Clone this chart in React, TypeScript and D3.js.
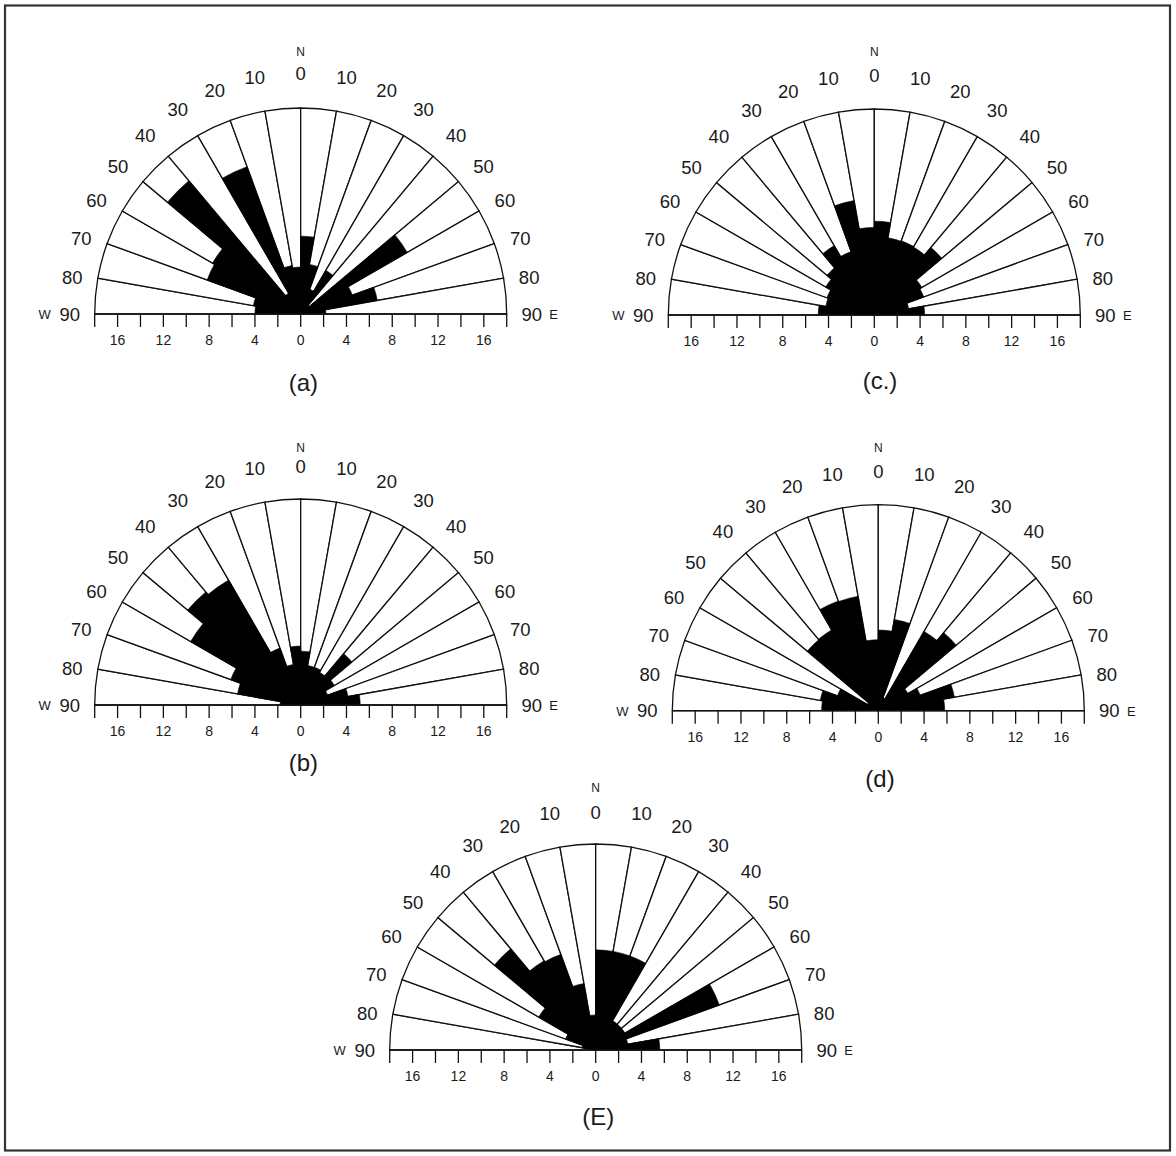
import React from 'react';
import * as d3 from 'd3';

// 10-degree bins from W (−90) to E (+90)
const binStarts = [-90, -80, -70, -60, -50, -40, -30, -20, -10, 0, 10, 20, 30, 40, 50, 60, 70, 80];
const angleTicks = [-90, -80, -70, -60, -50, -40, -30, -20, -10, 0, 10, 20, 30, 40, 50, 60, 70, 80, 90];
const lengthTicks = [-18, -16, -14, -12, -10, -8, -6, -4, -2, 0, 2, 4, 6, 8, 10, 12, 14, 16, 18];
const lengthTickLabels = [-16, -12, -8, -4, 0, 4, 8, 12, 16];
const maxValue = 18;

// values per bin, W -> E
const valuesA = [4.0, 4.2, 8.7, 8.9, 15.2, 2.1, 13.7, 4.3, 4.1, 6.8, 4.4, 2.3, 4.4, 1.0, 10.75, 4.8, 6.8, 2.2];
const valuesB = [1.8, 5.6, 6.5, 11.1, 12.9, 12.6, 5.3, 3.6, 5.15, 4.7, 3.5, 3.5, 3.3, 5.85, 3.4, 2.5, 4.2, 5.2];
const valuesC = [4.9, 4.3, 4.4, 4.9, 5.4, 7.0, 5.9, 10.15, 7.65, 8.2, 6.85, 6.9, 6.85, 7.7, 4.8, 4.6, 3.05, 4.4];
const valuesD = [4.95, 5.15, 3.8, 1.1, 8.1, 8.15, 10.2, 10.15, 6.2, 7.05, 8.1, 1.2, 8.0, 8.9, 3.0, 3.9, 6.75, 5.8];
const valuesE = [0.4, 1.2, 2.8, 5.75, 11.55, 9.0, 8.9, 5.9, 3.06, 8.75, 8.75, 8.75, 2.95, 2.95, 2.95, 11.5, 2.85, 5.6];

const panelLabels = ['(a)', '(c.)', '(b)', '(d)', '(E)'];

const FONT = "'Liberation Sans', Arial, Helvetica, sans-serif";
const R = 206;

const rScale = d3.scaleLinear().domain([0, maxValue]).range([0, R]);
const xScale = d3.scaleLinear().domain([-maxValue, maxValue]).range([-R, R]);
const toRad = (d: number) => (d * Math.PI) / 180;
const arcGen = d3.arc<any>();

type RoseProps = {
  cx: number;
  cy: number;
  values: number[];
  label: string;
  labelDx: number;
  labelDy: number;
  nDy: number;
  zeroDy: number;
};

function labelPos(theta: number) {
  const a = Math.abs(theta);
  const sign = theta === 0 ? 0 : theta > 0 ? 1 : -1;
  const adj = a === 90 || a === 0 ? theta : theta + sign * 1.0;
  const dist = 241 - 10 * Math.pow(Math.sin(toRad(a)), 2);
  return { x: dist * Math.sin(toRad(adj)), y: -dist * Math.cos(toRad(adj)) };
}

function Rose({ cx, cy, values, label, labelDx, labelDy, nDy, zeroDy }: RoseProps) {
  return (
    <g transform={`translate(${cx},${cy})`}>
      {binStarts.map((s, i) => (
        <path
          key={`w${i}`}
          d={arcGen({ innerRadius: 0, outerRadius: rScale(maxValue), startAngle: toRad(s), endAngle: toRad(s + 10) }) as string}
          fill="#fff"
          stroke="#111"
          strokeWidth={1.3}
        />
      ))}
      {binStarts.map((s, i) => (
        <path
          key={`b${i}`}
          d={arcGen({ innerRadius: 0, outerRadius: rScale(values[i]), startAngle: toRad(s), endAngle: toRad(s + 10) }) as string}
          fill="#000"
          stroke="#000"
          strokeWidth={0.6}
        />
      ))}
      <line x1={xScale(-maxValue)} x2={xScale(maxValue)} y1={0} y2={0} stroke="#111" strokeWidth={1.4} />
      {lengthTicks.map((t) => (
        <line key={`t${t}`} x1={xScale(t)} x2={xScale(t)} y1={0} y2={13} stroke="#111" strokeWidth={1.3} />
      ))}
      {lengthTickLabels.map((t) => (
        <text key={`tl${t}`} x={xScale(t)} y={26} fontSize={14} fontFamily={FONT} fill="#1a1a1a" textAnchor="middle" dominantBaseline="central">
          {Math.abs(t)}
        </text>
      ))}
      {angleTicks.map((a) => {
        const p = labelPos(a);
        const y = a === 0 ? -zeroDy : p.y;
        return (
          <text key={`a${a}`} x={p.x} y={y} fontSize={18.5} fontFamily={FONT} fill="#1a1a1a" textAnchor="middle" dominantBaseline="central">
            {Math.abs(a)}
          </text>
        );
      })}
      <text x={0} y={-nDy} fontSize={12} fontFamily={FONT} fill="#1a1a1a" textAnchor="middle" dominantBaseline="central">N</text>
      <text x={-256} y={5} fontSize={13} fontFamily={FONT} fill="#1a1a1a" textAnchor="middle">W</text>
      <text x={253} y={5} fontSize={13} fontFamily={FONT} fill="#1a1a1a" textAnchor="middle">E</text>
      <text x={labelDx} y={labelDy} fontSize={24} fontFamily={FONT} fill="#1a1a1a" textAnchor="middle" dominantBaseline="central">
        {label}
      </text>
    </g>
  );
}

const layout = [
  { cx: 300.7, cy: 314, values: valuesA, labelDx: 2.6, labelDy: 68, nDy: 262, zeroDy: 241 },
  { cx: 874.3, cy: 315, values: valuesC, labelDx: 5.7, labelDy: 65, nDy: 263, zeroDy: 240 },
  { cx: 300.7, cy: 705, values: valuesB, labelDx: 2.6, labelDy: 57, nDy: 257, zeroDy: 239 },
  { cx: 878.3, cy: 710.7, values: valuesD, labelDx: 1.7, labelDy: 67.6, nDy: 262.7, zeroDy: 239 },
  { cx: 595.7, cy: 1050, values: valuesE, labelDx: 2.6, labelDy: 66.7, nDy: 262, zeroDy: 238 },
];

export default function App() {
  return (
    <svg width={1176} height={1156} style={{ position: 'absolute', left: 0, top: 0, background: '#fff' }}>
      <rect x={0} y={0} width={1176} height={1156} fill="#fff" />
      <rect x={5} y={5.5} width={1165} height={1145} fill="none" stroke="#333" strokeWidth={2.2} />
      {layout.map((p, i) => (
        <Rose key={i} {...p} label={panelLabels[i]} />
      ))}
    </svg>
  );
}
